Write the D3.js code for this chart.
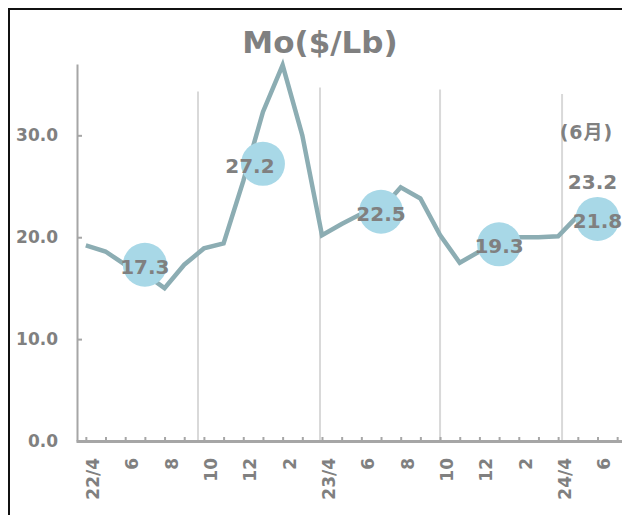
<!DOCTYPE html>
<html>
<head>
<meta charset="utf-8">
<script src="https://cdn.jsdelivr.net/npm/d3@7"></script>
<style>
  body { margin: 0; background: #fff; }
  text { font-family: "DejaVu Sans", Verdana, "Noto Sans CJK JP", sans-serif; font-weight: bold; fill: #808080; }
</style>
</head>
<body>
<div id="wrapper"></div>
<script>
// months 22/4 .. 24/6
const months = ["22/4","5","6","7","8","9","10","11","12","1","2","3",
                "23/4","5","6","7","8","9","10","11","12","1","2","3",
                "24/4","5","6"];
const moPrice = [19.2,18.6,17.3,16.4,15.0,17.3,18.9,19.4,25.5,32.3,36.9,30.0,
                 20.2,21.3,22.3,22.7,24.9,23.8,20.2,17.5,18.6,19.6,20.0,20.0,
                 20.1,22.1,23.2];
// half-year averages
const avgIndex = [3, 9, 15, 21, 26];
const avgValues = [17.3, 27.2, 22.5, 19.3, 21.8];
const yTicks = [0, 10, 20, 30];
// separator lines (month index, top value)
const sepIndex = [5.7, 11.9, 18.0, 24.2];
const sepTop = [34.3, 34.7, 34.5, 34.05];
const lastNote = "(6月)";

const width = 622, height = 515;

const svg = d3.select("#wrapper").append("svg")
    .attr("width", width)
    .attr("height", height);

svg.append("rect").attr("width", width).attr("height", height).attr("fill", "#fff");

// frame
svg.append("rect")
    .attr("x", 9).attr("y", 9)
    .attr("width", 700).attr("height", 600)
    .attr("fill", "none")
    .attr("stroke", "#111")
    .attr("stroke-width", 2);

const xScale = d3.scaleLinear()
    .domain([-0.5, 27.5])
    .range([76, 627]);

const yScale = d3.scaleLinear()
    .domain([0, 37])
    .range([441, 64]);

// separators
svg.append("g").selectAll("line")
    .data(sepIndex)
    .join("line")
    .attr("x1", d => xScale(d)).attr("x2", d => xScale(d))
    .attr("y1", (d, i) => yScale(sepTop[i]))
    .attr("y2", yScale(0))
    .attr("stroke", "#d9d9d9")
    .attr("stroke-width", 2);

// y axis
const yAxis = svg.append("g")
    .attr("transform", `translate(${xScale(-0.5) + 1},0)`)
    .call(d3.axisLeft(yScale).tickValues(yTicks).tickFormat(d3.format(".1f"))
        .tickSizeInner(-5).tickSizeOuter(0).tickPadding(19));
yAxis.select(".domain").attr("stroke", "#a6a6a6").attr("stroke-width", 2);
yAxis.selectAll(".tick line").attr("stroke", "#a6a6a6").attr("stroke-width", 2);
yAxis.selectAll(".tick text").attr("font-size", 17).style("fill", "#808080")
    .attr("font-family", null);

// x axis
const xAxis = svg.append("g")
    .attr("transform", `translate(0,${yScale(0)})`)
    .call(d3.axisBottom(xScale).tickValues(d3.range(28))
        .tickFormat(i => (i < months.length && i % 2 === 0) ? months[i] : "")
        .tickSizeInner(-4).tickSizeOuter(0));
xAxis.select(".domain").attr("stroke", "#a6a6a6").attr("stroke-width", 3);
xAxis.selectAll(".tick line").attr("stroke", "#a6a6a6").attr("stroke-width", 2);
xAxis.selectAll(".tick text")
    .attr("font-size", 17)
    .attr("font-family", null)
    .style("fill", "#808080")
    .attr("transform", "rotate(-90)")
    .attr("text-anchor", "end")
    .attr("x", -17)
    .attr("y", 6.5)
    .attr("dy", "0.35em");

// title
svg.append("text")
    .attr("x", 320).attr("y", 53)
    .attr("text-anchor", "middle")
    .attr("font-size", 31)
    .text("Mo($/Lb)");

// price line
const line = d3.line()
    .x((d, i) => xScale(i))
    .y(d => yScale(d));

svg.append("path")
    .attr("d", line(moPrice))
    .attr("fill", "none")
    .attr("stroke", "#8cadb3")
    .attr("stroke-width", 4.5)
    .attr("stroke-linejoin", "miter");

// average bubbles
svg.append("g").selectAll("circle")
    .data(avgValues)
    .join("circle")
    .attr("cx", (d, i) => xScale(avgIndex[i]))
    .attr("cy", d => yScale(d))
    .attr("r", 22)
    .attr("fill", "#a8d8e7");

svg.append("g").selectAll("text")
    .data(avgValues)
    .join("text")
    .attr("x", (d, i) => xScale(avgIndex[i]) + (i === 1 ? -13 : 0))
    .attr("y", d => yScale(d) + 2)
    .attr("dy", "0.35em")
    .attr("text-anchor", "middle")
    .attr("font-size", 20)
    .text(d => d.toFixed(1));

// latest value
const lastI = moPrice.length - 1;
svg.append("text")
    .attr("x", xScale(lastI) - 5)
    .attr("y", yScale(moPrice[lastI]) - 23)
    .attr("dy", "0.35em")
    .attr("text-anchor", "middle")
    .attr("font-size", 20)
    .text(moPrice[lastI].toFixed(1));

svg.append("text")
    .attr("x", xScale(lastI) - 11)
    .attr("y", yScale(moPrice[lastI]) - 72)
    .attr("dy", "0.35em")
    .attr("text-anchor", "middle")
    .attr("font-size", 19)
    .attr("letter-spacing", 1)
    .text(lastNote);
</script>
</body>
</html>
